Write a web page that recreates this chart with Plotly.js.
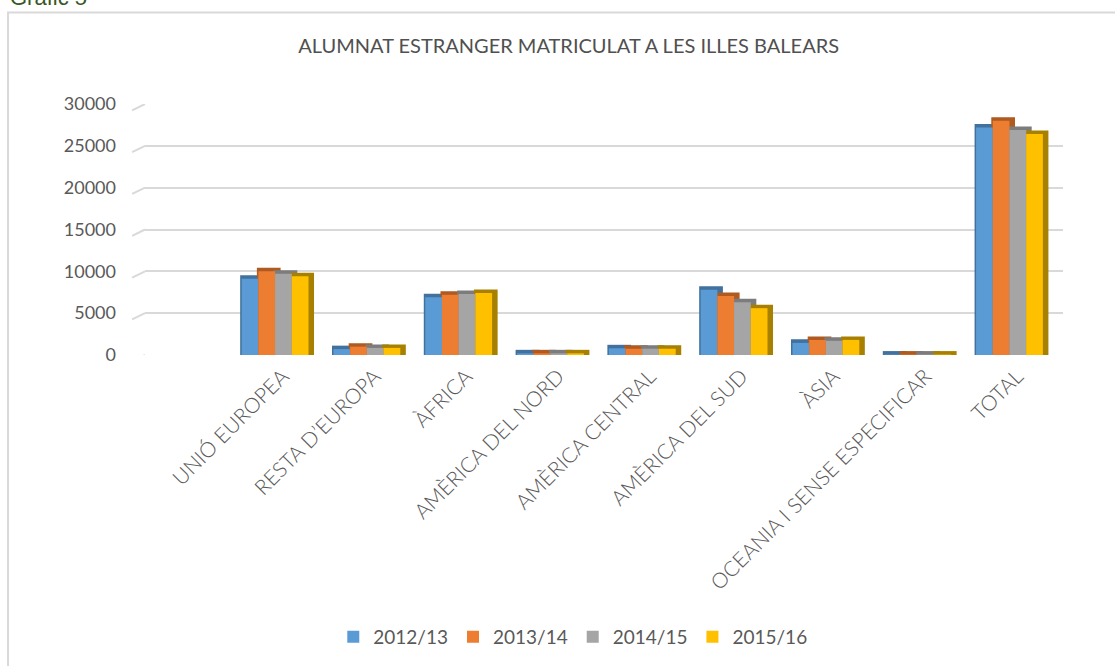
<!DOCTYPE html>
<html>
<head>
<meta charset="utf-8">
<script src="https://cdn.plot.ly/plotly-3.0.1.min.js"></script>
<style>html,body{margin:0;padding:0;background:#fff;}#chart{width:1115px;height:666px;}</style>
</head>
<body>
<div id="chart"></div>
<script>
const categories = ["UNIÓ EUROPEA", "RESTA D’EUROPA", "ÀFRICA", "AMÈRICA DEL NORD", "AMÈRICA CENTRAL", "AMÈRICA DEL SUD", "ÀSIA", "OCEANIA I SENSE ESPECIFICAR", "TOTAL"];
const seriesNames = ["2012/13", "2013/14", "2014/15", "2015/16"];
const v2012 = [9100, 700, 6900, 200, 800, 7800, 1450, 50, 27200];
const v2013 = [10000, 1000, 7200, 200, 750, 7050, 1800, 50, 28000];
const v2014 = [9700, 850, 7300, 200, 750, 6300, 1700, 50, 26900];
const v2015 = [9400, 850, 7400, 200, 750, 5600, 1800, 50, 26400];
const yTicks = [0, 5000, 10000, 15000, 20000, 25000, 30000];

const seriesValues = [v2012, v2013, v2014, v2015];
const frontColors = ["#5B9BD5", "#ED7D31", "#A5A5A5", "#FFC000"];
const depthColors = ["#41719C", "#AE5A21", "#7C7C7C", "#A88000"];

const barW = 0.182;
const startOff = -0.447;
const depthShift = 0.022;

const traces = [];
// depth (3D top/side) faces first
seriesValues.forEach((vals, i) => {
  traces.push({
    type: "bar", x: categories, y: vals, name: seriesNames[i] + " depth",
    showlegend: false, hoverinfo: "skip",
    offset: startOff + i * barW + depthShift, width: barW,
    marker: {color: depthColors[i], line: {color: depthColors[i], width: 7}}
  });
});
// front faces
seriesValues.forEach((vals, i) => {
  traces.push({
    type: "bar", x: categories, y: vals, name: seriesNames[i],
    offset: startOff + i * barW, width: barW,
    marker: {color: frontColors[i], line: {width: 0}}
  });
});

const shapes = [];
// left diagonal stubs of the 3D back wall grid
yTicks.forEach(t => {
  shapes.push({type: "line", xref: "paper", yref: "y", x0: -0.014, x1: 0, y0: t - 750, y1: t,
    line: {color: "#D9D9D9", width: 2}, layer: "below"});
});
// outer frame
shapes.push({type: "rect", xref: "paper", yref: "paper", x0: -0.1492, x1: 1.0675, y0: -1.283, y1: 1.365,
  line: {color: "#D9D9D9", width: 2}, fillcolor: "rgba(0,0,0,0)", layer: "below"});

const layout = {
  width: 1115, height: 666,
  margin: {l: 145, r: 52, t: 104, b: 310},
  paper_bgcolor: "#ffffff", plot_bgcolor: "#ffffff",
  barmode: "overlay",
  font: {family: "Lato, 'Open Sans', sans-serif", color: "#595959"},
  title: {text: "ALUMNAT ESTRANGER MATRICULAT A LES ILLES BALEARS", xref: "container", x: 0.51, xanchor: "center",
    yref: "container", y: 0.931, yanchor: "middle",
    font: {family: "Lato, sans-serif", size: 20, color: "#505050"}},
  xaxis: {type: "category", range: [-1.5, 8.5], tickangle: -45, showgrid: false, zeroline: false,
    showline: false, ticks: "", ticklabelstandoff: 4,
    tickfont: {family: "Lato, sans-serif", size: 21, color: "#595959", weight: 300},
    fixedrange: true},
  yaxis: {range: [0, 30000], tickvals: yTicks, ticktext: yTicks.map(String), showgrid: true,
    gridcolor: "#D9D9D9", gridwidth: 2, zeroline: false, showline: false, ticks: "",
    ticklabelstandoff: 28, tickfont: {family: "Lato, sans-serif", size: 18, color: "#595959"}, fixedrange: true},
  legend: {orientation: "h", x: 0.466, xanchor: "center", y: -1.115, yanchor: "middle",
    font: {family: "Lato, sans-serif", size: 19, color: "#595959"}, traceorder: "normal"},
  shapes: shapes,
  annotations: [{text: "Gràfic 5", xref: "paper", yref: "paper", x: -0.149, xanchor: "left",
    y: 1.425, yanchor: "middle", showarrow: false,
    font: {family: "Liberation Sans, sans-serif", size: 22, color: "#385723"}}]
};

Plotly.newPlot("chart", traces, layout, {displayModeBar: false, staticPlot: true});
</script>
</body>
</html>
